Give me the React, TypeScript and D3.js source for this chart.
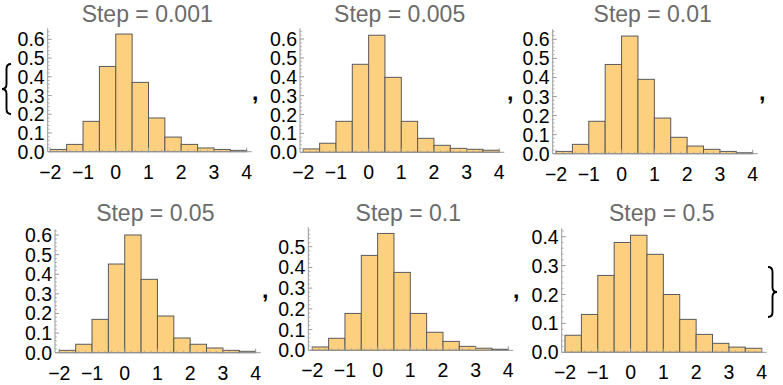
import React from 'react';
import * as d3 from 'd3';

// bin starts (width 0.5) shared by every histogram
const binStarts = [-2, -1.5, -1, -0.5, 0, 0.5, 1, 1.5, 2, 2.5, 3, 3.5];
const binWidth = 0.5;

const stepLabels = ['0.001', '0.005', '0.01', '0.05', '0.1', '0.5'];

// densities
const step0001 = [0.012, 0.039, 0.162, 0.455, 0.628, 0.37, 0.18, 0.078, 0.039, 0.02, 0.012, 0.007];
const step0005 = [0.018, 0.048, 0.164, 0.466, 0.62, 0.397, 0.164, 0.074, 0.037, 0.021, 0.016, 0.011];
const step001 = [0.012, 0.049, 0.17, 0.468, 0.617, 0.39, 0.187, 0.086, 0.04, 0.023, 0.012, 0.005];
const step005 = [0.012, 0.043, 0.17, 0.452, 0.6, 0.374, 0.187, 0.075, 0.043, 0.024, 0.012, 0.007];
const step01 = [0.016, 0.058, 0.178, 0.458, 0.564, 0.376, 0.178, 0.087, 0.043, 0.019, 0.01, 0.005];
const step05 = [0.059, 0.131, 0.266, 0.38, 0.405, 0.339, 0.2, 0.114, 0.062, 0.031, 0.018, 0.014];

const seriesList = [step0001, step0005, step001, step005, step01, step05];

const xTicks = [-2, -1, 0, 1, 2, 3, 4];
const yTicks6 = [0, 0.1, 0.2, 0.3, 0.4, 0.5, 0.6];
const yTicks5 = [0, 0.1, 0.2, 0.3, 0.4, 0.5];
const yTicks4 = [0, 0.1, 0.2, 0.3, 0.4];
const yTickSets = [yTicks6, yTicks6, yTicks6, yTicks6, yTicks5, yTicks4];

// panel placement (pixels): y axis x, x(-2), x(4), y(0), reference value & its pixel, axis top, title baseline
const panels = [
  { ax: 47.7, x0: 50.3, x1: 246.7, y0: 151.7, refV: 0.6, refY: 39.3, top: 28.3, ty: 22 },
  { ax: 300, x0: 303.3, x1: 499.3, y0: 152.3, refV: 0.6, refY: 39, top: 28.3, ty: 22 },
  { ax: 552.7, x0: 556, x1: 752.7, y0: 153.7, refV: 0.6, refY: 39.3, top: 29.3, ty: 22 },
  { ax: 55, x0: 59.3, x1: 255.6, y0: 352.7, refV: 0.6, refY: 235, top: 229.3, ty: 221 },
  { ax: 308.3, x0: 312.3, x1: 508.3, y0: 350.3, refV: 0.5, refY: 246.7, top: 227.3, ty: 221 },
  { ax: 561.7, x0: 565, x1: 761.7, y0: 352.3, refV: 0.4, refY: 236.7, top: 228.3, ty: 221 },
];

const commas = [
  { x: 252, y: 100 }, { x: 507, y: 100 }, { x: 759, y: 100 },
  { x: 262, y: 298 }, { x: 513, y: 298 },
];

const FONT = '"Liberation Sans", Arial, Helvetica, sans-serif';
const TICK_SIZE = 19.5;
const TITLE_SIZE = 23;
const FILL = '#FDD080';
const EDGE = '#5a5a5a';
const AXIS = '#999999';

const fmt = (v: number) => (v < 0 ? '\u2212' + Math.abs(v) : String(v));

function brace(x0: number, x1: number, yTop: number, yBot: number) {
  // x0 = middle tip, x1 = arm ends
  const p = d3.path();
  const mid = (yTop + yBot) / 2;
  const xm = (x0 + x1) / 2;
  p.moveTo(x1, yTop);
  p.quadraticCurveTo(xm, yTop, xm, yTop + 5);
  p.lineTo(xm, mid - 5);
  p.quadraticCurveTo(xm, mid, x0, mid);
  p.quadraticCurveTo(xm, mid, xm, mid + 5);
  p.lineTo(xm, yBot - 5);
  p.quadraticCurveTo(xm, yBot, x1, yBot);
  return p.toString();
}

const Panel: React.FC<{ i: number }> = ({ i }) => {
  const L = panels[i];
  const values = seriesList[i];
  const x = d3.scaleLinear().domain([-2, 4]).range([L.x0, L.x1]);
  const y = d3.scaleLinear().domain([0, L.refV]).range([L.y0, L.refY]);
  const xEnd = L.x1 + 5;
  const yMax = y.invert(L.top);
  const minorY = d3.range(0, yMax, 0.02).filter(v => Math.abs(v * 10 - Math.round(v * 10)) > 1e-6);
  const minorX = d3.range(-2, 4.01, 0.2).filter(v => Math.abs(v - Math.round(v)) > 1e-6);
  const yTicks = yTickSets[i];
  return (
    <g>
      {binStarts.map((b, k) => (
        <rect key={k} x={x(b)} y={y(values[k])} width={x(b + binWidth) - x(b)}
          height={y(0) - y(values[k])} fill={FILL} stroke={EDGE} strokeWidth={1} />
      ))}
      <line x1={L.ax} x2={xEnd} y1={L.y0} y2={L.y0} stroke={AXIS} strokeWidth={1} />
      <line x1={L.ax} x2={L.ax} y1={L.y0} y2={L.top} stroke={AXIS} strokeWidth={1} />
      {yTicks.map(t => (
        <line key={'yt' + t} x1={L.ax} x2={L.ax + 4} y1={y(t)} y2={y(t)} stroke={AXIS} />
      ))}
      {minorY.map(t => (
        <line key={'ym' + t} x1={L.ax} x2={L.ax + 2} y1={y(t)} y2={y(t)} stroke={AXIS} strokeWidth={0.7} />
      ))}
      {xTicks.map(t => (
        <line key={'xt' + t} x1={x(t)} x2={x(t)} y1={L.y0} y2={L.y0 - 4} stroke={AXIS} />
      ))}
      {minorX.map(t => (
        <line key={'xm' + t} x1={x(t)} x2={x(t)} y1={L.y0} y2={L.y0 - 2} stroke={AXIS} strokeWidth={0.7} />
      ))}
      {yTicks.map(t => (
        <text key={'yl' + t} x={L.ax - 3} y={y(t)} textAnchor="end" dy="0.36em"
          fontSize={TICK_SIZE} fontFamily={FONT} fill="#000">
          {t.toFixed(1)}
        </text>
      ))}
      {xTicks.map(t => (
        <text key={'xl' + t} x={x(t)} y={L.y0 + 27} textAnchor="middle"
          fontSize={TICK_SIZE} fontFamily={FONT} fill="#000">
          {fmt(t)}
        </text>
      ))}
      <text x={(L.ax + L.x1) / 2} y={L.ty} textAnchor="middle" fontSize={TITLE_SIZE}
        fontFamily={FONT} fill="#6b6b6b">
        {`Step = ${stepLabels[i]}`}
      </text>
    </g>
  );
};

export default function App() {
  return (
    <svg width={783} height={385} style={{ position: 'absolute', left: 0, top: 0, background: '#fff' }}>
      <rect x={0} y={0} width={783} height={385} fill="#fff" />
      <path d={brace(2, 11, 64, 114)} fill="none" stroke="#000" strokeWidth={1.9} />
      <path d={brace(777, 768, 267, 317)} fill="none" stroke="#000" strokeWidth={1.9} />
      {panels.map((_, i) => <Panel key={i} i={i} />)}
      {commas.map((c, k) => (
        <text key={k} x={c.x} y={c.y} fontSize={23} fontWeight="bold" fontFamily={FONT} fill="#000">,</text>
      ))}
    </svg>
  );
}
